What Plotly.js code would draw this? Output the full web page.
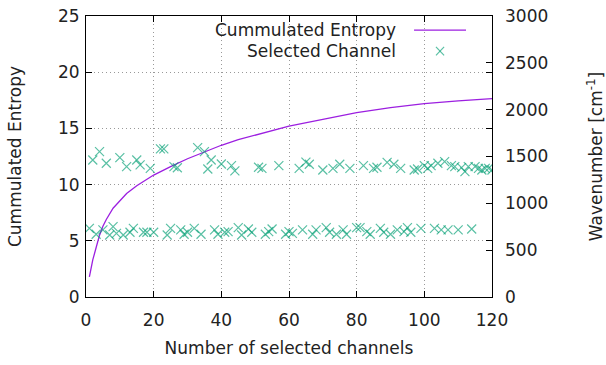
<!DOCTYPE html>
<html>
<head>
<meta charset="utf-8">
<script src="https://cdn.plot.ly/plotly-3.0.1.min.js"></script>
<style>html,body{margin:0;padding:0;background:#fff;}#chart{width:606px;height:365px;}</style>
</head>
<body>
<div id="chart"></div>
<script>
// Cumulated entropy curve
const entropyN = [1,2,3,4,5,6,8,10,12,15,18,20,25,30,35,40,45,50,60,70,80,90,100,110,120];
const entropyVal = [1.8,3.3,4.4,5.5,6.3,6.9,7.9,8.6,9.2,9.9,10.5,10.85,11.6,12.3,12.9,13.5,14.0,14.4,15.2,15.8,16.4,16.85,17.2,17.45,17.65];

// Selected channels: index and wavenumber [cm^-1]
const channelN = [1,2,3,4,5,6,7,8,9,10,11,12,13,14,15,16,17,18,19,20,22,23,24,25,26,27,28,29,30,32,33,34,35,36,37,38,39,40,41,42,43,44,45,46,48,49,51,52,53,54,55,57,59,60,61,63,64,65,66,67,68,70,71,72,73,74,75,76,77,78,80,81,82,83,84,85,86,87,88,89,90,91,92,93,94,95,96,97,98,99,100,101,102,103,104,105,106,107,108,109,110,111,112,113,114,115,116,117,118,119,120];
const channelWn = [733,1463,670,1552,716,1428,662,751,680,1488,662,1392,691,733,1463,1410,691,691,1374,691,1581,1581,662,733,1392,1380,716,670,691,733,1595,670,1552,1367,1463,716,670,1420,691,698,1403,1346,740,662,726,691,1385,1374,670,698,726,1403,670,698,680,1374,716,1440,1417,670,716,1356,740,691,1374,670,1417,716,670,1374,740,740,1403,698,670,1374,1385,733,691,1438,670,1417,716,1374,698,740,691,1356,1367,733,1403,1374,1403,733,1428,716,1445,716,1403,1392,716,1381,1338,1392,726,1392,1374,1356,1374,1374,1356];

const xTicks = [0,20,40,60,80,100,120];

const font = {family: 'DejaVu Sans, sans-serif', size: 17, color: '#222'};
const greenMark = 'rgba(0,158,115,0.65)';
const violet = '#9c1fe0';

const traces = [
  {x: entropyN, y: entropyVal, type: 'scatter', mode: 'lines', name: 'Cummulated Entropy',
   line: {color: violet, width: 1.3}, yaxis: 'y', showlegend: false},
  {x: channelN, y: channelWn, type: 'scatter', mode: 'markers', name: 'Selected Channel',
   marker: {symbol: 'x-thin-open', size: 9, color: greenMark, line: {color: greenMark, width: 1.2}},
   yaxis: 'y2', showlegend: false}
];

const layout = {
  width: 606, height: 365,
  margin: {l: 86, r: 114, t: 16, b: 68},
  paper_bgcolor: '#fff', plot_bgcolor: '#fff',
  font: font,
  showlegend: false,
  xaxis: {
    range: [0, 120], tickvals: xTicks, ticktext: xTicks.map(String),
    showline: true, linecolor: '#000', linewidth: 1, mirror: 'ticks',
    ticks: 'inside', ticklen: 6, tickcolor: '#000', ticklabelstandoff: 8,
    showgrid: true, gridcolor: '#999', griddash: '1px,3px', gridwidth: 1,
    zeroline: false, tickfont: font,
    title: {text: 'Number of selected channels', font: font, standoff: 12}
  },
  yaxis: {
    range: [0, 25], dtick: 5,
    showline: true, linecolor: '#000', linewidth: 1, mirror: 'ticks',
    ticks: 'inside', ticklen: 6, tickcolor: '#000', ticklabelstandoff: 2,
    showgrid: true, gridcolor: '#999', griddash: '1px,3px', gridwidth: 1,
    zeroline: false, tickfont: font,
    title: {text: 'Cummulated Entropy', font: font, standoff: 32}
  },
  yaxis2: {
    range: [0, 3000], dtick: 500, overlaying: 'y', side: 'right',
    showline: false, ticks: 'inside', ticklen: 6, tickcolor: '#000', ticklabelstandoff: 12,
    showgrid: false, zeroline: false, tickfont: font,
    title: {text: 'Wavenumber [cm<sup>-1</sup>]', font: font, standoff: 42}
  },
  annotations: [
    {xref: 'paper', yref: 'paper', x: 0.768, y: 0.950, xanchor: 'right', yanchor: 'middle',
     text: 'Cummulated Entropy', showarrow: false, font: font},
    {xref: 'paper', yref: 'paper', x: 0.768, y: 0.875, xanchor: 'right', yanchor: 'middle',
     text: 'Selected Channel', showarrow: false, font: font}
  ],
  shapes: [
    {type: 'line', xref: 'paper', yref: 'paper', x0: 0.808, x1: 0.936, y0: 0.950, y1: 0.950,
     line: {color: violet, width: 1.3}},
    {type: 'line', xref: 'paper', yref: 'paper', x0: 0.862, x1: 0.882, y0: 0.860, y1: 0.890,
     line: {color: greenMark, width: 1.2}},
    {type: 'line', xref: 'paper', yref: 'paper', x0: 0.862, x1: 0.882, y0: 0.890, y1: 0.860,
     line: {color: greenMark, width: 1.2}}
  ]
};

Plotly.newPlot('chart', traces, layout, {displayModeBar: false, staticPlot: true});
</script>
</body>
</html>
